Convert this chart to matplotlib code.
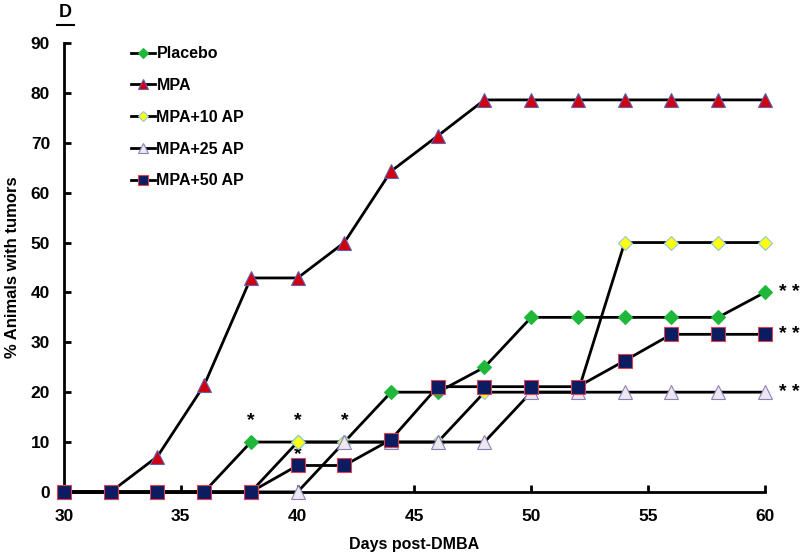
import matplotlib
matplotlib.use("Agg")
from matplotlib import pyplot as plt
from matplotlib.lines import Line2D

# days post-DMBA
days = [30, 32, 34, 36, 38, 40, 42, 44, 46, 48, 50, 52, 54, 56, 58, 60]

placebo = [0, 0, 0, 0, 10, 10, 10, 20, 20, 25, 35, 35, 35, 35, 35, 40]
mpa = [0, 0, 7.1, 21.4, 42.9, 42.9, 50, 64.3, 71.4, 78.6, 78.6, 78.6, 78.6, 78.6, 78.6, 78.6]
mpa_10ap = [0, 0, 0, 0, 0, 10, 10, 10, 10, 20, 20, 20, 50, 50, 50, 50]
mpa_25ap = [0, 0, 0, 0, 0, 0, 10, 10, 10, 10, 20, 20, 20, 20, 20, 20]
mpa_50ap = [0, 0, 0, 0, 0, 5.3, 5.3, 10.5, 21.1, 21.1, 21.1, 21.1, 26.3, 31.6, 31.6, 31.6]

labels = ["Placebo", "MPA", "MPA+10 AP", "MPA+25 AP", "MPA+50 AP"]

# significance marks
star_x = [38, 40, 42, 40]
star_y = [14.4, 14.4, 14.4, 7.4]
dstar_y = [40, 31.6, 20]

plt.rcParams['font.family'] = ['Liberation Sans', 'DejaVu Sans']
plt.rcParams['font.weight'] = 'bold'

fig = plt.figure(figsize=(8, 5.59), dpi=100)
ax = fig.add_axes([0.08, 0.12, 0.876, 0.803])

styles = [
    dict(marker='D', ms=7.5, mfc='#1fb83a', mec='#1fb83a', mew=0.8),
    dict(marker='^', ms=10, mfc='#d00010', mec='#6060b0', mew=0.8),
    dict(marker='D', ms=7.5, mfc='#ffff10', mec='#8fc8d8', mew=0.8),
    dict(marker='^', ms=10.5, mfc='#ece8f0', mec='#9080b8', mew=0.8),
    dict(marker='s', ms=10, mfc='#0c1c60', mec='#e04050', mew=0.8),
]
series = [placebo, mpa, mpa_10ap, mpa_25ap, mpa_50ap]

for i, (vals, lab, st) in enumerate(zip(series, labels, styles)):
    ax.plot(days, vals, color='black', lw=2, label=lab, zorder=3 + i, clip_on=False, **st)

for x, y in zip(star_x, star_y):
    ax.text(x, y, '*', ha='center', va='center', fontsize=14, fontweight='bold')
for y in dstar_y:
    ax.text(60.6, y, '* *', ha='left', va='center', fontsize=14, fontweight='bold')

ax.set_xlim(30, 60)
ax.set_ylim(0, 90)
ax.set_xticks(range(30, 61, 5))
ax.set_yticks(range(0, 91, 10))
ax.spines['top'].set_visible(False)
ax.spines['right'].set_visible(False)
ax.spines['left'].set_linewidth(2)
ax.spines['bottom'].set_linewidth(2)
ax.tick_params(direction='in', width=2, length=5, labelsize=12.5)
ax.tick_params(axis='x', pad=12)
ax.tick_params(axis='y', pad=10)
for t in ax.get_xticklabels() + ax.get_yticklabels():
    t.set_fontweight('bold')

ax.set_xlabel('Days post-DMBA', fontsize=11.5, fontweight='bold', labelpad=10)
ax.set_ylabel('% Animals with tumors', fontsize=12, fontweight='bold', labelpad=8)

leg = ax.legend(loc='upper left', bbox_to_anchor=(0.075, 1.025), frameon=False,
                fontsize=11.5, handlelength=1.5, handletextpad=0.1,
                labelspacing=1.05, markerscale=0.7)
for t in leg.get_texts():
    t.set_fontweight('bold')

fig.text(0.081, 0.978, 'D', fontsize=13, fontweight='bold', ha='center', va='center')
fig.add_artist(Line2D([0.071, 0.092], [0.956, 0.956], color='black', lw=1.5))

fig.savefig('out.png', dpi=100)
